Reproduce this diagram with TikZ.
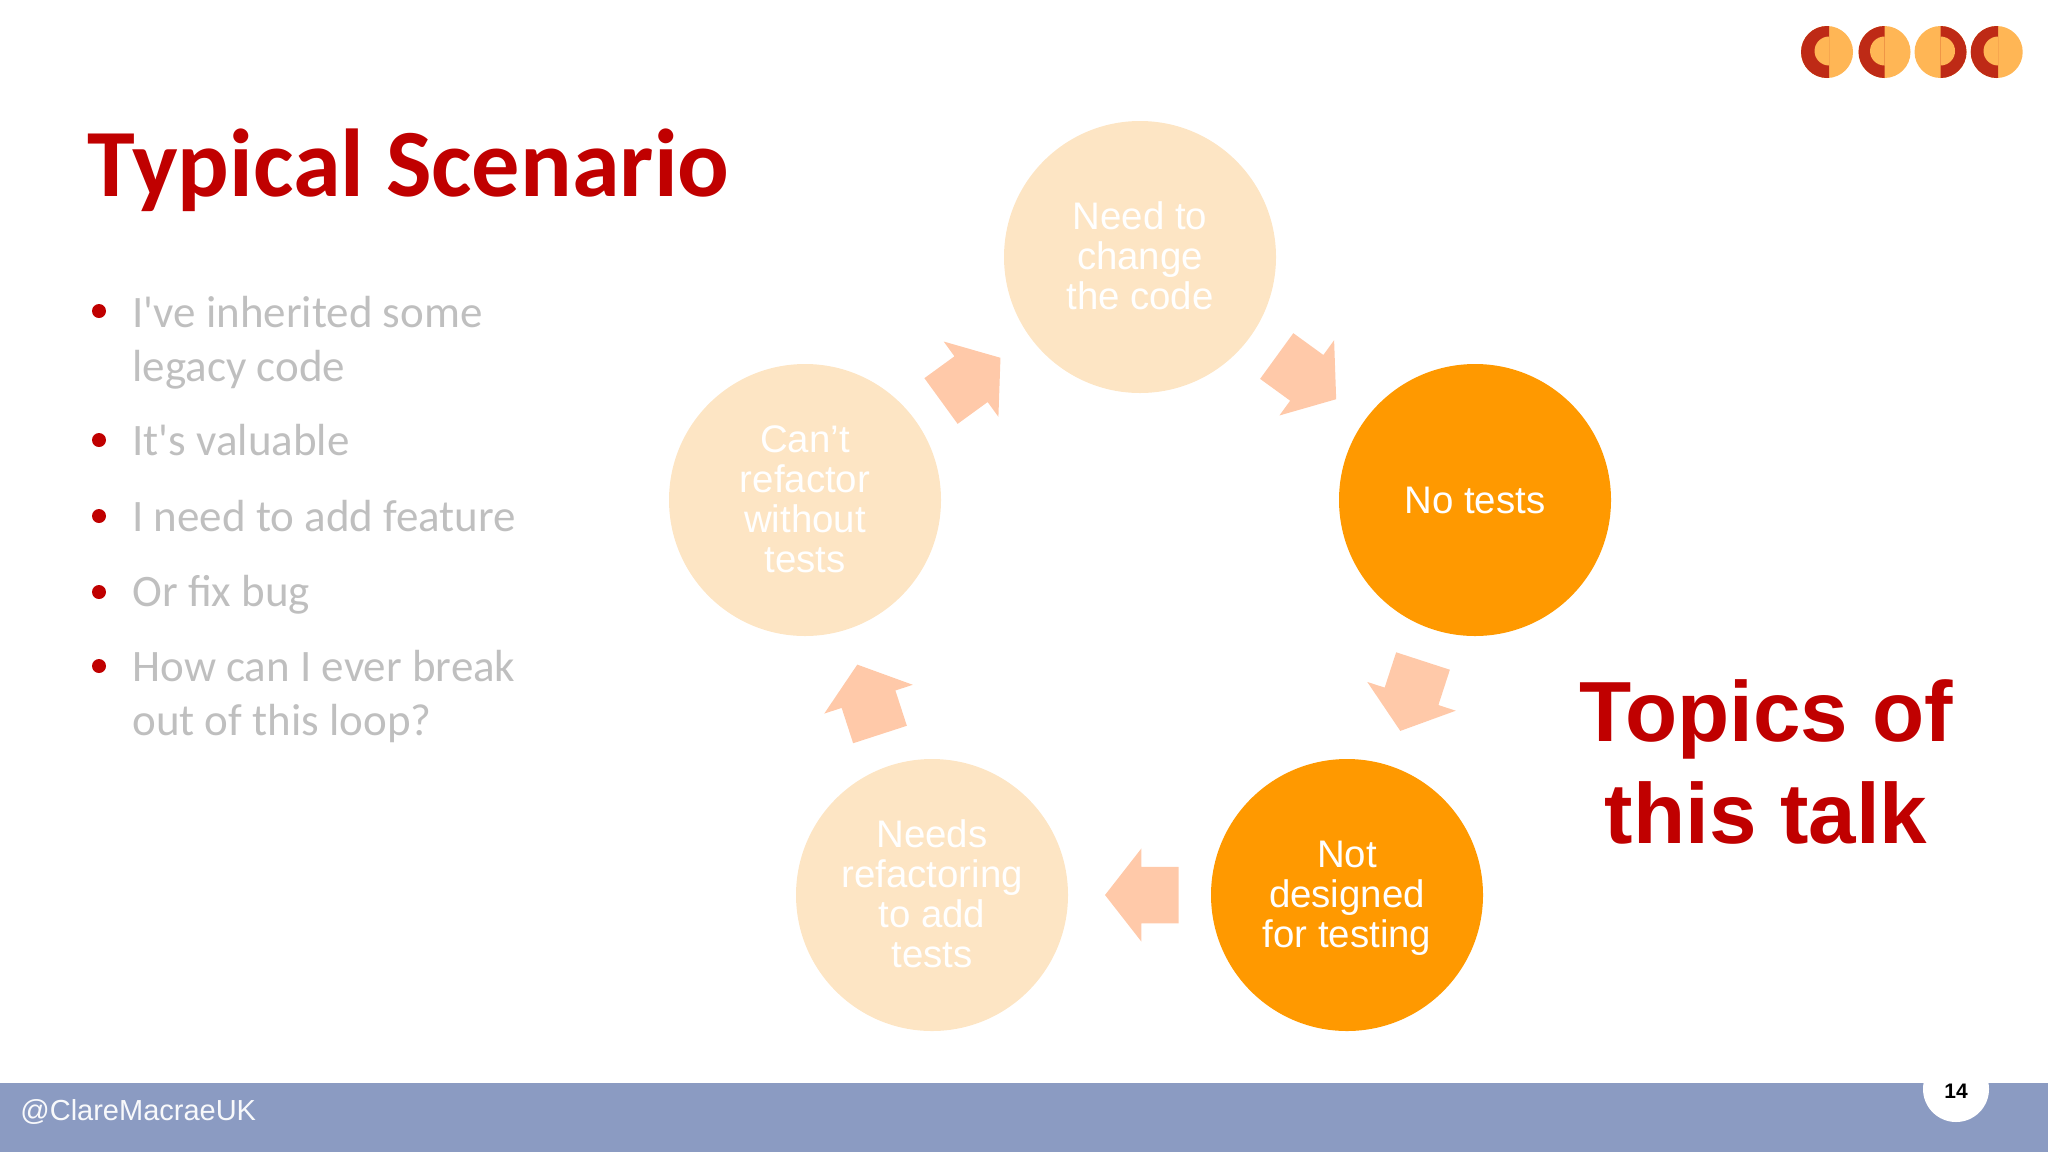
\documentclass[tikz,border=0pt]{standalone}
\usepackage{fontspec}
\setmainfont{Liberation Sans}
\newfontfamily\slidefont{Carlito}
\usetikzlibrary{shapes.arrows}
\definecolor{titlered}{HTML}{C00000}
\definecolor{bandblue}{HTML}{8B9BC2}
\definecolor{activeorange}{HTML}{FF9900}
\definecolor{fadedorange}{HTML}{FDE5C4}
\definecolor{arrowpeach}{HTML}{FFC9A9}
\definecolor{logored}{HTML}{BE2A16}
\definecolor{logogold}{HTML}{FFB655}
\definecolor{bulletgrey}{HTML}{BFBFBF}
\newcommand{\lowline}{\rule[-1.3pt]{0pt}{1pt}}
\tikzset{
  stage/.style={circle, inner sep=0pt, outer sep=0pt, minimum size=136pt, text=white,
                align=center, font=\fontsize{19.2}{20}\selectfont},
  activestage/.style={stage, fill=activeorange},
  fadedstage/.style={stage, fill=fadedorange},
  flowarrow/.style={single arrow, fill=arrowpeach, inner sep=0pt, outer sep=0pt, anchor=tail,
                    text width=0pt, text height=27.85pt, text depth=0pt,
                    minimum height=36.75pt, minimum width=46.15pt,
                    single arrow head extend=9.15pt, single arrow tip angle=104},
  bullettext/.style={anchor=west, inner sep=0pt, align=left, text=bulletgrey,
                     font=\slidefont\fontsize{22.5}{27}\selectfont},
  bulletdot/.style={circle, fill=titlered, inner sep=0pt, minimum size=7pt}
}
% half ring of the logo: x of centre, x of split, side
\newcommand{\logodisc}[3]{
  \fill[logogold] (#1,52) circle (26);
  \begin{scope}
    \clip (#2,20) rectangle (#2+#3*34,84);
    \fill[logored] (#1,52) circle (26);
    \fill[logogold] (#2,51) circle (14.5);
  \end{scope}
}
\begin{document}
\begin{tikzpicture}[x=0.5pt,y=-0.5pt]
    \useasboundingbox (0,0) rectangle (2048,1152);
    % Footer band
    \fill[bandblue] (0,1083) rectangle (2048,1152);
    \node (handle) at (20,1120) [anchor=base west, inner sep=0pt, text=white!94!bandblue,
        font=\fontsize{14.5}{18}\selectfont] {@ClareMacraeUK};
    \node (pagedisc) at (1956,1089) [circle, fill=white, minimum size=33pt, inner sep=0pt] {};
    \node (pagenum) at (1956,1091) [font=\bfseries\fontsize{10.5}{12}\selectfont] {14};
    % Logo
    \logodisc{1827}{1829}{-1}
    \logodisc{1884.5}{1884.5}{-1}
    \logodisc{1940.5}{1940.5}{1}
    \logodisc{1996.7}{1998}{-1}
    % Title and bullets
    \node (title) at (87,196) [anchor=base west, inner sep=0pt, text=titlered,
        font=\slidefont\bfseries\fontsize{48.2}{54}\selectfont] {Typical Scenario};
    \node[bulletdot] (dota) at (99,311) {};
    \node[bulletdot] (dotb) at (99,440) {};
    \node[bulletdot] (dotc) at (99,516) {};
    \node[bulletdot] (dotd) at (99,592) {};
    \node[bulletdot] (dote) at (99,666) {};
    \node[bullettext] (texta) at (132,343.5) {I've inherited some\strut\\legacy code\strut};
    \node[bullettext] (textb) at (132,445) {It's valuable\strut};
    \node[bullettext] (textc) at (132,521) {I need to add feature\strut};
    \node[bullettext] (textd) at (132,596) {Or fix bug\strut};
    \node[bullettext] (texte) at (132,697.5) {How can I ever break\strut\\out of this loop?\strut};
    % Cycle
    \node[fadedstage] (change) at (1140,257) {Need to\\change\\the code\lowline};
    \node[activestage] (notests) at (1475,500) {No tests};
    \node[activestage] (notdesigned) at (1347,895) {\rule{0pt}{16.2pt}Not\\designed\\for testing};
    \node[fadedstage] (needsrefactor) at (932,895) {Needs\\refactoring\\to add\\tests\lowline};
    \node[fadedstage] (cantrefactor) at (805,500) {Can't\\refactor\\without\\tests\lowline};
    \node[flowarrow, rotate=36] (arrowa) at (941,401) {};
    \node[flowarrow, rotate=-36] (arrowb) at (1276.7,356) {};
    \node[flowarrow, rotate=-108] (arrowc) at (1423,661) {};
    \node[flowarrow, rotate=180] (arrowd) at (1178.5,895) {};
    \node[flowarrow, rotate=108] (arrowe) at (880,734.5) {};
    % Callout
    \node (topics) at (1766,762) [align=center, text=titlered, inner sep=0pt,
        font=\bfseries\fontsize{42.7}{51}\selectfont] {Topics of\\this talk};
\end{tikzpicture}
\end{document}
